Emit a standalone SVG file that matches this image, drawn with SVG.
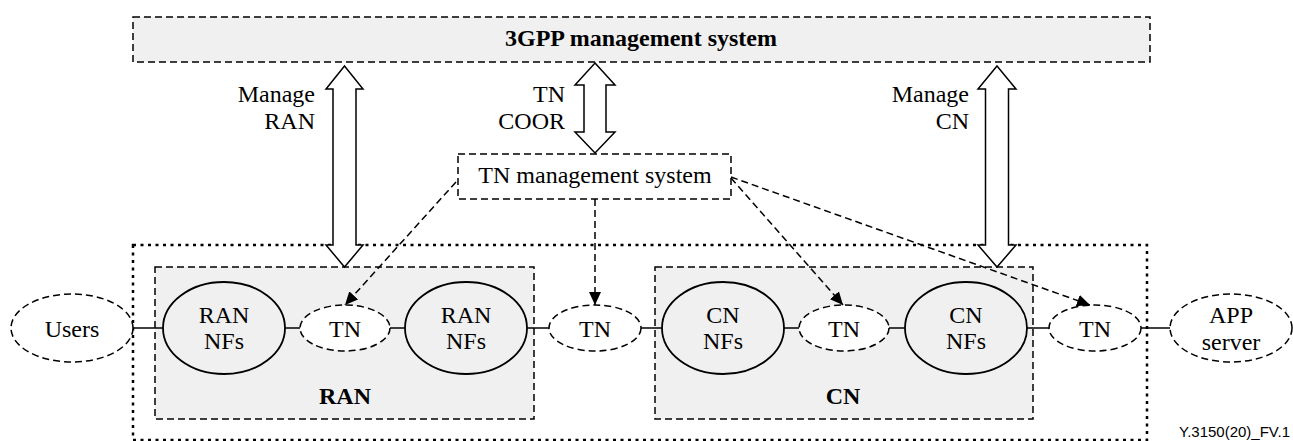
<svg xmlns="http://www.w3.org/2000/svg" width="1293" height="441" viewBox="0 0 1293 441">
<defs>
<style>
.t{font-family:'Liberation Serif','DejaVu Serif',serif;font-size:24px;fill:#000}
.b{font-weight:bold}
.dash{fill:#f0f0f0;stroke:#000;stroke-width:1.5;stroke-dasharray:7 4}
.dashw{fill:#fff;stroke:#000;stroke-width:1.5;stroke-dasharray:7 4}
.solid{fill:#f0f0f0;stroke:#000;stroke-width:1.8}
.big{fill:#fff;stroke:#000;stroke-width:1.5}
.ln{stroke:#000;stroke-width:1.5;fill:none}
.dl{stroke:#000;stroke-width:1.5;fill:none;stroke-dasharray:7 4}
</style>
<marker id="ah" markerUnits="userSpaceOnUse" markerWidth="14" markerHeight="12" refX="13" refY="6" orient="auto">
<path d="M0,0 L13,6 L0,12 z" fill="#000"/>
</marker>
</defs>
<rect width="1293" height="441" fill="#fff"/>

<g id="outer">
<rect x="133" y="245" width="1014" height="195" fill="none" stroke="#000" stroke-width="2.5" stroke-dasharray="3 4.5"/>
</g>

<g id="mgmt3gpp">
<rect class="dash" x="133" y="17" width="1017" height="45"/>
<text class="t b" x="641" y="46" text-anchor="middle" font-family="Liberation Serif, serif">3GPP management system</text>
</g>

<g id="ran">
<rect class="dash" x="155" y="267" width="379" height="152"/>
<text class="t b" x="345" y="404" text-anchor="middle" font-family="Liberation Serif, serif">RAN</text>
</g>
<g id="cn">
<rect class="dash" x="655" y="267" width="378" height="152"/>
<text class="t b" x="843" y="404" text-anchor="middle" font-family="Liberation Serif, serif">CN</text>
</g>

<g id="tnmgmt">
<rect class="dashw" x="458" y="154" width="273" height="45"/>
<text class="t" x="595" y="183" text-anchor="middle" font-family="Liberation Serif, serif">TN management system</text>
</g>

<g id="users">
<ellipse class="dashw" cx="72" cy="328" rx="61" ry="34"/>
<text class="t" x="72" y="337" text-anchor="middle" font-family="Liberation Serif, serif">Users</text>
</g>
<g id="rannf1">
<ellipse class="solid" cx="224" cy="328" rx="61" ry="46"/>
<text class="t" x="224" y="323" text-anchor="middle" font-family="Liberation Serif, serif">RAN</text>
<text class="t" x="224" y="349" text-anchor="middle" font-family="Liberation Serif, serif">NFs</text>
</g>
<g id="tn1">
<ellipse class="dashw" cx="345" cy="328" rx="45" ry="23"/>
<text class="t" x="345" y="337" text-anchor="middle" font-family="Liberation Serif, serif">TN</text>
</g>
<g id="rannf2">
<ellipse class="solid" cx="466" cy="328" rx="61" ry="46"/>
<text class="t" x="466" y="323" text-anchor="middle" font-family="Liberation Serif, serif">RAN</text>
<text class="t" x="466" y="349" text-anchor="middle" font-family="Liberation Serif, serif">NFs</text>
</g>
<g id="tn2">
<ellipse class="dashw" cx="595" cy="328" rx="46" ry="23"/>
<text class="t" x="595" y="337" text-anchor="middle" font-family="Liberation Serif, serif">TN</text>
</g>
<g id="cnnf1">
<ellipse class="solid" cx="723" cy="328" rx="61" ry="46"/>
<text class="t" x="723" y="323" text-anchor="middle" font-family="Liberation Serif, serif">CN</text>
<text class="t" x="723" y="349" text-anchor="middle" font-family="Liberation Serif, serif">NFs</text>
</g>
<g id="tn3">
<ellipse class="dashw" cx="844" cy="328" rx="45" ry="23"/>
<text class="t" x="844" y="337" text-anchor="middle" font-family="Liberation Serif, serif">TN</text>
</g>
<g id="cnnf2">
<ellipse class="solid" cx="966" cy="328" rx="61" ry="46"/>
<text class="t" x="966" y="323" text-anchor="middle" font-family="Liberation Serif, serif">CN</text>
<text class="t" x="966" y="349" text-anchor="middle" font-family="Liberation Serif, serif">NFs</text>
</g>
<g id="tn4">
<ellipse class="dashw" cx="1095" cy="328" rx="46" ry="23"/>
<text class="t" x="1095" y="337" text-anchor="middle" font-family="Liberation Serif, serif">TN</text>
</g>
<g id="app">
<ellipse class="dashw" cx="1231" cy="328" rx="61" ry="34"/>
<text class="t" x="1231" y="323" text-anchor="middle" font-family="Liberation Serif, serif">APP</text>
<text class="t" x="1231" y="350" text-anchor="middle" font-family="Liberation Serif, serif">server</text>
</g>

<g id="connectors">
<polygon class="big" points="344.5,66 363,89 356,89 356,245 363,245 344.5,267 326,245 333,245 333,89 326,89"/>
<polygon class="big" points="595,63 615,85 606,85 606,132 615,132 595,153 575,132 584,132 584,85 575,85"/>
<polygon class="big" points="997,66 1016,89 1008.5,89 1008.5,245 1016,245 997,267 978,245 985.5,245 985.5,89 978,89"/>
<text class="t" x="315" y="102" text-anchor="end" font-family="Liberation Serif, serif">Manage</text>
<text class="t" x="315" y="129" text-anchor="end" font-family="Liberation Serif, serif">RAN</text>
<text class="t" x="565" y="102" text-anchor="end" font-family="Liberation Serif, serif">TN</text>
<text class="t" x="565" y="129" text-anchor="end" font-family="Liberation Serif, serif">COOR</text>
<text class="t" x="969" y="102" text-anchor="end" font-family="Liberation Serif, serif">Manage</text>
<text class="t" x="969" y="129" text-anchor="end" font-family="Liberation Serif, serif">CN</text>

<line class="ln" x1="133" y1="328" x2="163" y2="328"/>
<line class="ln" x1="285" y1="328" x2="300" y2="328"/>
<line class="ln" x1="390" y1="328" x2="405" y2="328"/>
<line class="ln" x1="527" y1="328" x2="549" y2="328"/>
<line class="ln" x1="641" y1="328" x2="662" y2="328"/>
<line class="ln" x1="784" y1="328" x2="799" y2="328"/>
<line class="ln" x1="889" y1="328" x2="905" y2="328"/>
<line class="ln" x1="1027" y1="328" x2="1049" y2="328"/>
<line class="ln" x1="1141" y1="328" x2="1170" y2="328"/>

<line class="dl" x1="456" y1="182" x2="345" y2="305" marker-end="url(#ah)"/>
<line class="dl" x1="595" y1="199" x2="595" y2="305" marker-end="url(#ah)"/>
<line class="dl" x1="731" y1="178" x2="843" y2="305" marker-end="url(#ah)"/>
<line class="dl" x1="731" y1="177" x2="1090" y2="305" marker-end="url(#ah)"/>
</g>

<text x="1290" y="437" text-anchor="end" font-family="Liberation Sans, Arial, sans-serif" font-size="15" fill="#000">Y.3150(20)_FV.1</text>
</svg>
